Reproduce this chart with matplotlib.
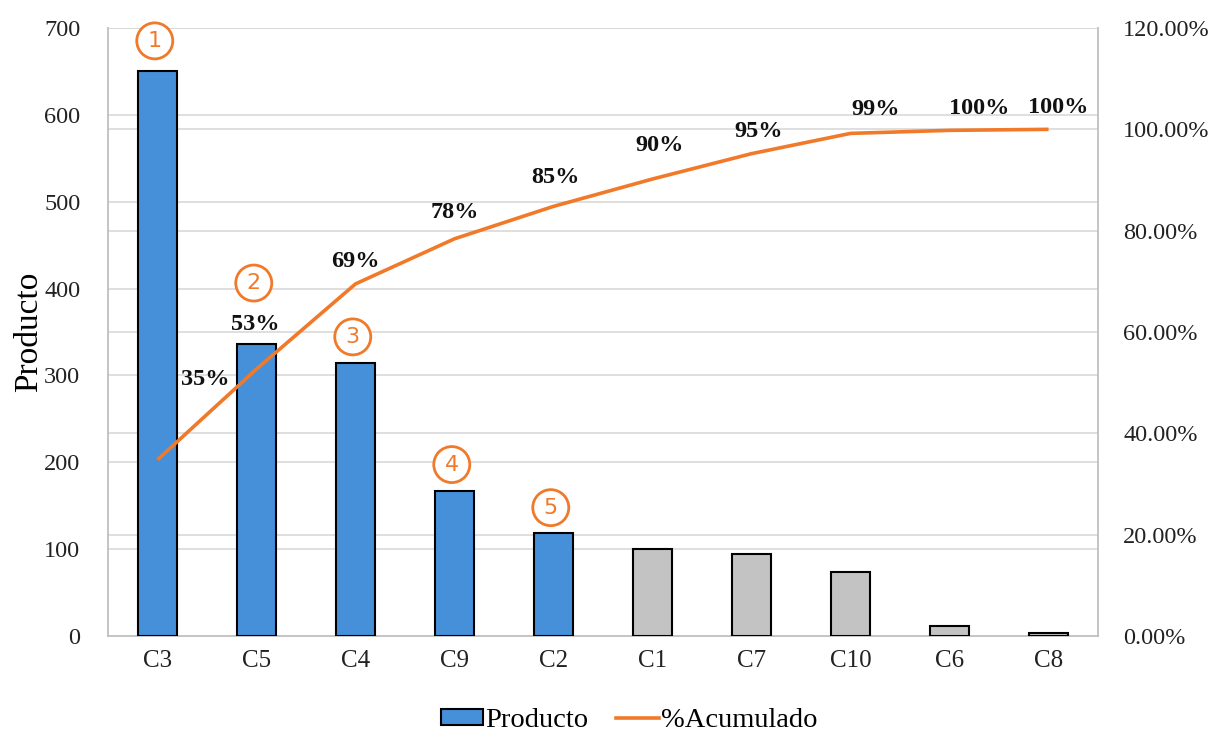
import matplotlib
matplotlib.use("Agg")
import matplotlib.pyplot as plt
from matplotlib.patches import Patch
from matplotlib.lines import Line2D
from matplotlib.ticker import FuncFormatter
from matplotlib.transforms import blended_transform_factory

categories = ["C3", "C5", "C4", "C9", "C2", "C1", "C7", "C10", "C6", "C8"]
producto = [650, 336, 314, 167, 119, 100, 95, 74, 12, 3]
acumulado = [0.348, 0.527, 0.695, 0.784, 0.848, 0.902, 0.952, 0.992, 0.998, 1.0]
acum_labels = ["35%", "53%", "69%", "78%", "85%", "90%", "95%", "99%", "100%", "100%"]
ranks = ["1", "2", "3", "4", "5"]
left_ticks = [0, 100, 200, 300, 400, 500, 600, 700]
right_ticks = [0, 0.2, 0.4, 0.6, 0.8, 1.0, 1.2]

plt.rcParams['font.family'] = ['Liberation Serif', 'DejaVu Serif']

BLUE = "#4690DA"
GRAY = "#C3C3C3"
ORANGE = "#F07A2A"
GRID = "#D9D9D9"

fig = plt.figure(figsize=(12.14, 7.33), dpi=100)
ax = fig.add_axes([0.089, 0.1323, 0.8155, 0.8295])
ax2 = ax.twinx()
ax.set_zorder(1)
ax.patch.set_visible(False)
ax2.set_zorder(2)

x = list(range(len(categories)))
colors = [BLUE if i < len(ranks) else GRAY for i in x]
ax.bar(x, producto, width=0.4, color=colors, edgecolor="black", linewidth=1.5, zorder=3)
ax.set_xlim(-0.5, len(categories) - 0.5)
ax.set_ylim(0, 700)
ax.set_yticks(left_ticks)
ax.set_xticks(x)
ax.set_xticklabels(categories)
ax.tick_params(axis="x", length=0, labelsize=18, colors="#222222", pad=10)
ax.tick_params(axis="y", length=0, labelsize=17.5, colors="#222222", pad=20)
for s in ["top", "right"]:
    ax.spines[s].set_visible(False)
for s in ["left", "bottom"]:
    ax.spines[s].set_color("#BFBFBF")
    ax.spines[s].set_linewidth(1.3)
ax.set_ylabel("Producto", fontsize=24, labelpad=0)

ax2.set_ylim(0, 1.2)
ax2.set_yticks(right_ticks)
ax2.yaxis.set_major_formatter(FuncFormatter(lambda v, p: f"{v*100:.2f}%"))
ax2.tick_params(axis="y", length=0, labelsize=17.5, colors="#222222", pad=18)
for s in ["top", "left", "bottom"]:
    ax2.spines[s].set_visible(False)
ax2.spines["right"].set_color("#BFBFBF")
ax2.spines["right"].set_linewidth(1.3)

# gridlines of both scales, behind the bars
trL = blended_transform_factory(ax.transAxes, ax.transData)
trR = blended_transform_factory(ax.transAxes, ax2.transData)
for v in left_ticks[1:]:
    ax.plot([0, 1], [v, v], transform=trL, color=GRID, lw=1.2, zorder=0)
for v in right_ticks[1:]:
    ax.plot([0, 1], [v, v], transform=trR, color=GRID, lw=1.2, zorder=0)

ax2.plot(x, acumulado, color=ORANGE, linewidth=2.6, zorder=4, solid_capstyle="butt")

# percentage labels (offsets in points)
lab_off = [(34, 58), (-1, 32), (0, 16), (0, 19), (1, 21),
           (5, 24), (5, 16), (18, 17), (21, 16), (7, 16)]
for i, (v, lab) in enumerate(zip(acumulado, acum_labels)):
    ax2.annotate(lab, (i, v), xytext=lab_off[i], textcoords="offset points",
                 ha="center", va="center", fontsize=17.5, fontweight="bold",
                 color="#111111", zorder=6)

# circled rank markers (offsets in points above bar top)
rank_off = [22, 44, 19, 19, 18]
for i, r in enumerate(ranks):
    ax.annotate(r, (i, producto[i]), xytext=(-2, rank_off[i]), textcoords="offset points",
                ha="center", va="center", fontsize=16, color=ORANGE,
                family="DejaVu Sans", zorder=7,
                bbox=dict(boxstyle="circle,pad=0.36", fc="white", ec=ORANGE, lw=2.0))

handles = [Patch(facecolor=BLUE, edgecolor="black", linewidth=1.5),
           Line2D([0], [0], color=ORANGE, linewidth=2.6)]
fig.legend(handles, ["Producto", "%Acumulado"], loc="lower center",
           bbox_to_anchor=(0.518, -0.035), ncol=2, frameon=False, fontsize=20.5,
           handlelength=1.5, handleheight=0.5, handletextpad=0.05, columnspacing=1.0)

fig.savefig("out.png", dpi=100, facecolor="white")
